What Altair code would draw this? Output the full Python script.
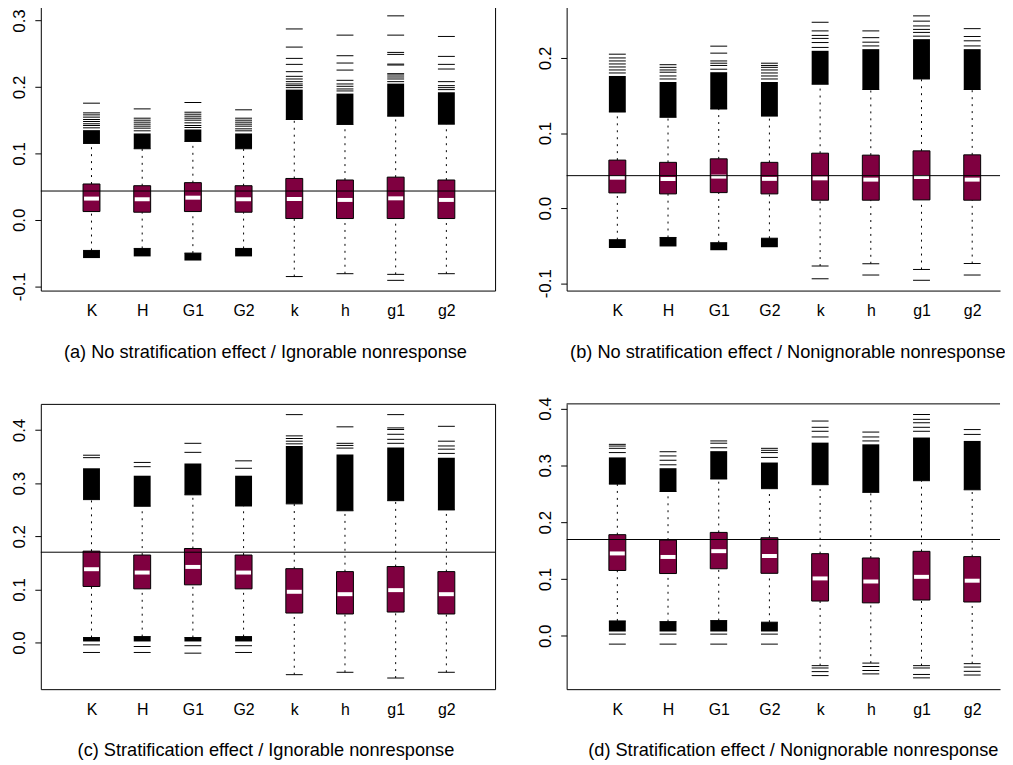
import altair as alt
import pandas as pd

GROUPS = ["K", "H", "G1", "G2", "k", "h", "g1", "g2"]
FONT = "Liberation Sans"
BOX_FILL = "#7F0040"

# ---------- panel (a) ----------
A_Q1 = [0.0125, 0.0115, 0.0125, 0.0115, 0.002, 0.002, 0.002, 0.002]
A_MED = [0.032, 0.031, 0.0334, 0.031, 0.0314, 0.030, 0.0324, 0.030]
A_Q3 = [0.054, 0.0514, 0.056, 0.0514, 0.0623, 0.060, 0.0643, 0.060]
A_WHI = [0.115, 0.107, 0.118, 0.107, 0.151, 0.1436, 0.156, 0.144]
A_WLO = [-0.046, -0.043, -0.050, -0.043, -0.0853, -0.081, -0.082, -0.081]
A_UBAND = [0.135, 0.130, 0.136, 0.130, 0.196, 0.190, 0.205, 0.192]
A_LBAND = [-0.0575, -0.055, -0.0612, -0.055, None, None, None, None]
A_UPOUT = [
    [0.1385, 0.142, 0.1446, 0.148, 0.151, 0.1546, 0.158, 0.161, 0.1756],
    [0.134, 0.138, 0.141, 0.144, 0.147, 0.150, 0.153, 0.167],
    [0.139, 0.142, 0.146, 0.150, 0.153, 0.156, 0.159, 0.162, 0.1766],
    [0.134, 0.137, 0.141, 0.144, 0.147, 0.150, 0.153, 0.1656],
    [0.199, 0.202, 0.2045, 0.208, 0.212, 0.216, 0.223, 0.234, 0.243, 0.260, 0.2873],
    [0.194, 0.197, 0.201, 0.2045, 0.210, 0.2254, 0.236, 0.247, 0.278],
    [0.208, 0.212, 0.215, 0.218, 0.220, 0.233, 0.2344, 0.249, 0.252, 0.278, 0.307],
    [0.196, 0.199, 0.202, 0.208, 0.227, 0.234, 0.246, 0.276],
]
A_LOOUT = [[], [], [], [], [], [], [-0.091], []]
A_REF = 0.0434
A_DOM = [-0.1064, 0.3229]
A_TICKS = [-0.1, 0.0, 0.1, 0.2, 0.3]
A_TITLE = "(a) No stratification effect / Ignorable nonresponse"

# ---------- panel (b) ----------
B_Q1 = [0.0203, 0.019, 0.0207, 0.019, 0.0106, 0.0106, 0.011, 0.0106]
B_MED = [0.0406, 0.0388, 0.042, 0.039, 0.0397, 0.038, 0.0415, 0.038]
B_Q3 = [0.064, 0.061, 0.0657, 0.061, 0.0732, 0.0706, 0.0763, 0.071]
B_WHI = [0.128, 0.121, 0.132, 0.1226, 0.165, 0.158, 0.172, 0.158]
B_WLO = [-0.042, -0.039, -0.046, -0.040, -0.077, -0.074, -0.0816, -0.0737]
B_UBAND = [0.176, 0.168, 0.181, 0.168, 0.2095, 0.2117, 0.225, 0.2117]
B_LBAND = [-0.053, -0.051, -0.056, -0.052, None, None, None, None]
B_UPOUT = [
    [0.180, 0.184, 0.188, 0.192, 0.196, 0.200, 0.205],
    [0.172, 0.176, 0.181, 0.184, 0.1875, 0.191],
    [0.185, 0.190, 0.193, 0.196, 0.2064, 0.2157],
    [0.172, 0.176, 0.180, 0.184, 0.1875, 0.190, 0.193],
    [0.214, 0.2205, 0.226, 0.230, 0.236, 0.2475],
    [0.216, 0.221, 0.227, 0.236],
    [0.229, 0.234, 0.238, 0.2426, 0.249, 0.256],
    [0.216, 0.2228, 0.2285, 0.239],
]
B_LOOUT = [[], [], [], [], [-0.094], [-0.089], [-0.096], [-0.089]]
B_REF = 0.0433
B_DOM = [-0.1097, 0.2701]
B_TICKS = [-0.1, 0.0, 0.1, 0.2]
B_TITLE = "(b) No stratification effect / Nonignorable nonresponse"

# ---------- panel (c) ----------
C_Q1 = [0.1055, 0.101, 0.1086, 0.101, 0.0555, 0.0537, 0.0574, 0.0537]
C_MED = [0.138, 0.1317, 0.1423, 0.1317, 0.0955, 0.091, 0.0986, 0.091]
C_Q3 = [0.172, 0.1647, 0.177, 0.1647, 0.139, 0.1335, 0.143, 0.1335]
C_WHI = [0.269, 0.2565, 0.278, 0.257, 0.261, 0.248, 0.267, 0.2496]
C_WLO = [0.0094, 0.0112, 0.0094, 0.0112, -0.0605, -0.056, -0.0668, -0.056]
C_UBAND = [0.328, 0.314, 0.337, 0.314, 0.370, 0.354, 0.367, 0.348]
C_LBAND = [0.002, 0.002, 0.002, 0.002, None, None, None, None]
C_UPOUT = [
    [0.348, 0.3526],
    [0.331, 0.339],
    [0.358, 0.375],
    [0.328, 0.342],
    [0.374, 0.379, 0.384, 0.389, 0.429],
    [0.366, 0.371, 0.375, 0.406],
    [0.375, 0.3825, 0.392, 0.401, 0.404, 0.429],
    [0.356, 0.364, 0.370, 0.379, 0.407],
]
C_LOOUT = [[-0.0044, -0.0187], [-0.0075, -0.0187], [-0.006, -0.020], [-0.006, -0.0187],
           [], [], [], []]
C_REF = 0.170
C_DOM = [-0.0878, 0.4492]
C_TICKS = [0.0, 0.1, 0.2, 0.3, 0.4]
C_TITLE = "(c) Stratification effect / Ignorable nonresponse"

# ---------- panel (d) ----------
D_Q1 = [0.115, 0.1096, 0.118, 0.110, 0.0612, 0.058, 0.063, 0.0595]
D_MED = [0.145, 0.1388, 0.149, 0.1405, 0.101, 0.0956, 0.1038, 0.097]
D_Q3 = [0.178, 0.1685, 0.182, 0.1726, 0.1446, 0.137, 0.1487, 0.1394]
D_WHI = [0.267, 0.254, 0.276, 0.259, 0.266, 0.2525, 0.273, 0.257]
D_WLO = [0.0262, 0.025, 0.0268, 0.024, -0.0525, -0.048, -0.0525, -0.049]
D_UBAND = [0.314, 0.295, 0.325, 0.305, 0.340, 0.337, 0.349, 0.343]
D_LBAND = [0.0076, 0.0076, 0.0076, 0.0076, None, None, None, None]
D_UPOUT = [
    [0.3225, 0.330, 0.334, 0.337],
    [0.301, 0.309, 0.3166, 0.324],
    [0.331, 0.339, 0.343],
    [0.314, 0.3225, 0.3265, 0.330],
    [0.350, 0.360, 0.367, 0.378],
    [0.343, 0.350, 0.3586],
    [0.360, 0.367, 0.375, 0.381, 0.3895],
    [0.3545, 0.363],
]
D_LOOUT = [[0.003, -0.0146], [0.003, -0.0146], [0.003, -0.0146], [0.003, -0.0146],
           [-0.0566, -0.063, -0.070], [-0.054, -0.061, -0.067],
           [-0.0566, -0.068, -0.074], [-0.055, -0.0625, -0.069]]
D_REF = 0.1695
D_DOM = [-0.0939, 0.4082]
D_TICKS = [0.0, 0.1, 0.2, 0.3, 0.4]
D_TITLE = "(d) Stratification effect / Nonignorable nonresponse"

H = 287
BW = 17
PX_PER_UNIT = 51.0
LABEL_EXPR = "[" + ",".join("'%s'" % g for g in GROUPS) + "][datum.value - 1]"
Y_LABEL_EXPR = "(datum.value < 0 ? '-' : '') + format(abs(datum.value), '.1f')"


def panel(q1, med, q3, wlo, whi, uband, lband, upout, loout, ref, ydom, yticks, title,
          width, title_x, open_right):
    idx = list(range(1, len(GROUPS) + 1))
    box = pd.DataFrame({"idx": idx, "q1": q1, "med": med, "q3": q3, "wlo": wlo, "whi": whi})
    bands = []
    for i, lo, hi in zip(idx, whi, uband):
        bands.append({"idx": i, "lo": lo, "hi": hi})
    for i, hi, lo in zip(idx, wlo, lband):
        if lo is not None:
            bands.append({"idx": i, "lo": lo, "hi": hi})
    bands = pd.DataFrame(bands)
    outs = pd.DataFrame([{"idx": i, "v": v} for i, vs in zip(idx, upout) for v in vs] +
                        [{"idx": i, "v": v} for i, vs in zip(idx, loout) for v in vs])
    refdf = pd.DataFrame({"ref": [ref]})
    topdf = pd.DataFrame({"top": [ydom[1]]})

    xaxis = alt.Axis(values=idx, labelExpr=LABEL_EXPR, labelFont=FONT, labelFontSize=16,
                     labelColor="black", labelBaseline="alphabetic", labelPadding=25,
                     ticks=False, tickSize=0, domain=open_right, domainColor="black",
                     domainWidth=1, grid=False, labelOverlap=False, labelFlush=False,
                     title=title, titleFont=FONT, titleFontSize=18.3, titleFontWeight="normal",
                     titleColor="black", titleBaseline="alphabetic", titleY=67,
                     titleX=title_x, titleAlign="center")
    xs = alt.Scale(domain=[0, width / PX_PER_UNIT], nice=False, zero=False, padding=0)
    yaxis = alt.Axis(values=yticks, labelExpr=Y_LABEL_EXPR, labelAngle=270,
                     labelAlign="center", labelBaseline="alphabetic", labelPadding=10,
                     labelFont=FONT, labelFontSize=17, labelColor="black",
                     tickSize=6, tickColor="black", domain=open_right, domainColor="black",
                     domainWidth=1, grid=False, minExtent=32, maxExtent=32, title=None)
    ys = alt.Scale(domain=ydom, nice=False, zero=False, padding=0)

    def X():
        return alt.X("idx:Q", scale=xs, axis=xaxis)

    def Y(f):
        return alt.Y(f"{f}:Q", scale=ys, axis=yaxis)

    base_box = alt.Chart(box)
    whisk_up = base_box.mark_rule(color="black", strokeDash=[2, 5], strokeWidth=1).encode(
        x=X(), y=Y("q3"), y2="whi:Q")
    whisk_lo = base_box.mark_rule(color="black", strokeDash=[2, 5], strokeWidth=1).encode(
        x=X(), y=Y("wlo"), y2="q1:Q")
    band = alt.Chart(bands).mark_bar(orient="vertical", size=BW, color="black",
                                     opacity=1).encode(x=X(), y=Y("lo"), y2="hi:Q")
    out = alt.Chart(outs).mark_tick(orient="horizontal", size=BW, thickness=1,
                                    color="black", opacity=1).encode(x=X(), y=Y("v"))
    cap_hi = base_box.mark_tick(orient="horizontal", size=BW, thickness=1,
                                color="black", opacity=1).encode(x=X(), y=Y("whi"))
    cap_lo = base_box.mark_tick(orient="horizontal", size=BW, thickness=1,
                                color="black", opacity=1).encode(x=X(), y=Y("wlo"))
    boxes = base_box.mark_bar(orient="vertical", size=BW, fill=BOX_FILL, stroke="black",
                              strokeWidth=1, opacity=1).encode(x=X(), y=Y("q1"), y2="q3:Q")
    meds = base_box.mark_tick(orient="horizontal", size=BW - 2, thickness=4,
                              color="white", opacity=1).encode(x=X(), y=Y("med"))
    refl = alt.Chart(refdf).mark_rule(color="black", strokeWidth=1).encode(y=Y("ref"))
    layers = [whisk_up, whisk_lo, band, out, cap_hi, cap_lo, boxes, meds, refl]
    if open_right:
        layers.append(alt.Chart(topdf).mark_rule(color="black", strokeWidth=1)
                      .encode(y=Y("top")))
    ch = alt.layer(*layers).properties(width=width, height=H)
    if open_right:
        ch = ch.properties(view=alt.ViewBackground(strokeOpacity=0))
    return ch


WL = 457
WR = 436
pa = panel(A_Q1, A_MED, A_Q3, A_WLO, A_WHI, A_UBAND, A_LBAND, A_UPOUT, A_LOOUT,
           A_REF, A_DOM, A_TICKS, A_TITLE, WL, 225.5, False)
pb = panel(B_Q1, B_MED, B_Q3, B_WLO, B_WHI, B_UBAND, B_LBAND, B_UPOUT, B_LOOUT,
           B_REF, B_DOM, B_TICKS, B_TITLE, WR, 222, True)
pc = panel(C_Q1, C_MED, C_Q3, C_WLO, C_WHI, C_UBAND, C_LBAND, C_UPOUT, C_LOOUT,
           C_REF, C_DOM, C_TICKS, C_TITLE, WL, 226, False)
pd_ = panel(D_Q1, D_MED, D_Q3, D_WLO, D_WHI, D_UBAND, D_LBAND, D_UPOUT, D_LOOUT,
            D_REF, D_DOM, D_TICKS, D_TITLE, WR, 227.5, True)

chart = alt.vconcat(
    alt.hconcat(pa, pb, spacing=39),
    alt.hconcat(pc, pd_, spacing=39),
    spacing=35,
).properties(
    padding={"left": 0, "top": -6, "right": 0, "bottom": 0},
    background="white",
).configure_view(stroke="black", strokeWidth=1)

chart.save("out.html", embed_options={"renderer": "svg", "actions": False})
